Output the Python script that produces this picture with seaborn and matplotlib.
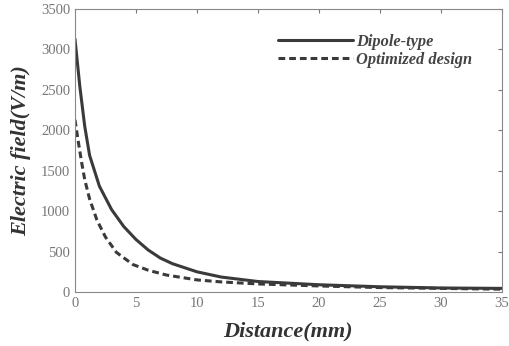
import matplotlib
matplotlib.use("Agg")
import matplotlib.pyplot as plt
import seaborn as sns
import pandas as pd

dipole_x = [0, 0.4, 0.8, 1.2, 2, 3, 4, 5, 6, 7, 8, 10, 12, 15, 20, 25, 30, 35]
dipole_y = [3130, 2540, 2050, 1690, 1310, 1020, 810, 650, 520, 420, 350, 250, 185, 130, 90, 65, 50, 45]
opt_x = [0, 0.25, 0.55, 0.8, 1.2, 1.8, 2.5, 3.4, 4.75, 6, 7.5, 10, 12, 15, 20, 25, 30, 35]
opt_y = [2130, 1880, 1600, 1390, 1150, 890, 680, 490, 340, 270, 210, 150, 125, 100, 75, 55, 45, 35]
series_names = ["Dipole-type", "Optimized design"]
xticks = [0, 5, 10, 15, 20, 25, 30, 35]
yticks = [0, 500, 1000, 1500, 2000, 2500, 3000, 3500]

df = pd.concat([
    pd.DataFrame({"Distance": dipole_x, "E": dipole_y, "Series": series_names[0]}),
    pd.DataFrame({"Distance": opt_x, "E": opt_y, "Series": series_names[1]}),
])

sns.set_style("white")
plt.rcParams["font.family"] = ["Liberation Serif", "DejaVu Serif"]

fig = plt.figure(figsize=(5.1, 3.46), dpi=100)
ax = fig.add_axes([0.147, 0.156, 0.837, 0.818])
sns.lineplot(data=df, x="Distance", y="E", style="Series", color="#3a3a3a",
             dashes={series_names[0]: "", series_names[1]: (2.2, 1.3)},
             linewidth=2.2, ax=ax)
ax.set_xlim(0, 35)
ax.set_ylim(0, 3500)
ax.set_xticks(xticks)
ax.set_yticks(yticks)
ax.tick_params(direction="in", length=3, colors="#777777", labelsize=10.5,
               top=True, right=True, labelcolor="#777777")
for s in ax.spines.values():
    s.set_color("#888888")
    s.set_linewidth(0.8)
ax.set_xlabel("Distance(mm)", fontsize=16, fontweight="bold", style="italic", color="#333333", labelpad=8)
ax.set_ylabel("Electric field(V/m)", fontsize=16, fontweight="bold", style="italic", color="#333333", labelpad=7)
leg = ax.legend(loc="upper left", bbox_to_anchor=(0.44, 0.965), frameon=False,
                prop={"family": "Liberation Serif", "weight": "bold", "style": "italic", "size": 11.8},
                handlelength=4.6, handletextpad=0.2, labelspacing=0.15)
for t in leg.get_texts():
    t.set_color("#444444")
fig.savefig("out.png", dpi=100)
